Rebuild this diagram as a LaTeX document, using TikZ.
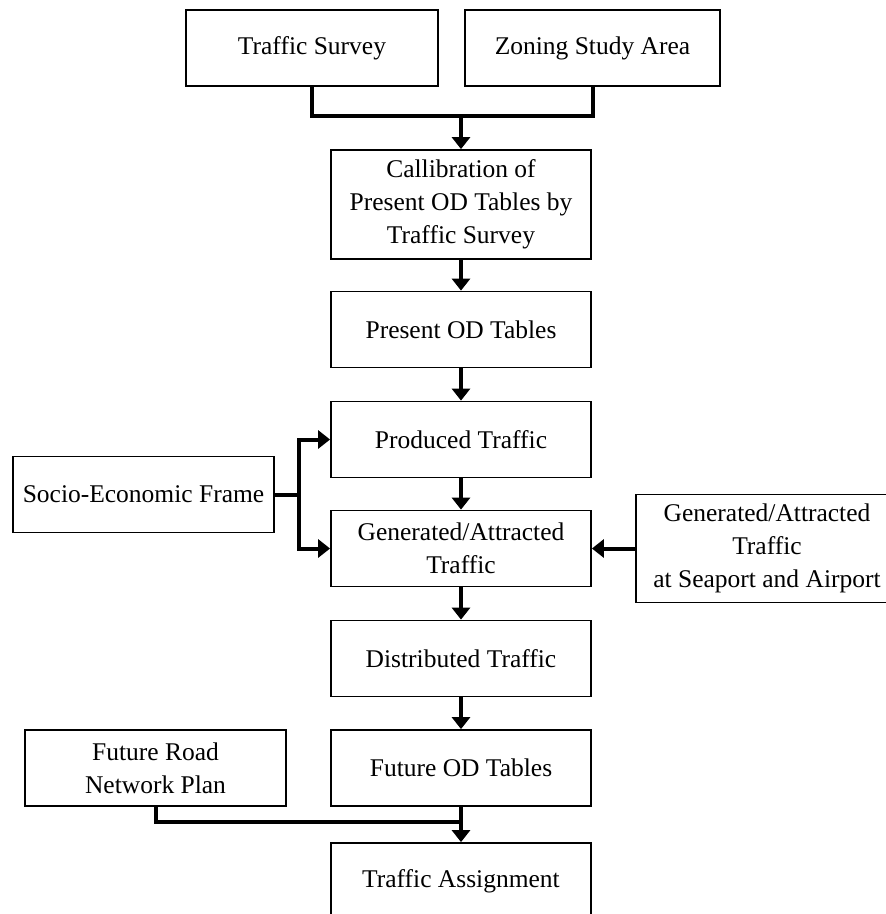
\documentclass[tikz,border=0pt]{standalone}
\usepackage{fontspec}
\setmainfont{Liberation Serif}
\usetikzlibrary{arrows.meta}

\begin{document}
\begin{tikzpicture}[x=1pt, y=1pt,
  box/.style={draw, line width=1.8pt, minimum width=260pt, minimum height=76pt,
    inner sep=0pt, align=center, font=\fontsize{25.5pt}{33pt}\selectfont},
  link/.style={line width=4pt, line join=miter},
  arrow/.style={link, -{Triangle[width=18pt,length=12pt]}}]
\useasboundingbox (0, 0) rectangle (886, -914);

\node (survey) at (312, -48) [box, minimum width=252pt] {Traffic Survey};
\node (zoning) at (592.5, -48) [box, minimum width=255pt] {Zoning Study Area};
\node (calib) at (461, -204.5) [box, minimum height=109pt] {Callibration of\\Present OD Tables by\\Traffic Survey};
\node (present) at (461, -329.5) [box] {Present OD Tables};
\node (produced) at (461, -439.5) [box] {Produced Traffic};
\node (generated) at (461, -548.5) [box] {Generated/Attracted\\Traffic};
\node (distributed) at (461, -658.5) [box] {Distributed Traffic};
\node (futureod) at (461, -768) [box] {Future OD Tables};
\node (assign) at (461, -881) [box] {Traffic Assignment};

\node (socio) at (143.5, -494.5) [box, minimum width=261pt] {Socio-Economic Frame};
\node (seaport) at (767, -548.5) [box, minimum width=262pt, minimum height=108pt] {Generated/Attracted\\Traffic\\at Seaport and Airport};
\node (futureroad) at (155.5, -768) [box, minimum width=261pt] {Future Road\\Network Plan};

\coordinate (topjoin) at (461, -116);
\coordinate (sociojoin) at (299, -494.5);
\coordinate (roadjoin) at (461, -822);

\draw [link] (survey.south) |- (topjoin) -| (zoning.south);
\draw [arrow] (topjoin) -- (calib);
\draw [arrow] (calib) -- (present);
\draw [arrow] (present) -- (produced);
\draw [arrow] (produced) -- (generated);
\draw [arrow] (generated) -- (distributed);
\draw [arrow] (distributed) -- (futureod);
\draw [arrow] (futureod) -- (assign);

\draw [link] (socio) -- (sociojoin);
\draw [arrow] (sociojoin) |- (produced);
\draw [arrow] (sociojoin) |- (generated);
\draw [arrow] (seaport) -- (generated);

\draw [link] (futureroad.south) |- (roadjoin);
\end{tikzpicture}
\end{document}
